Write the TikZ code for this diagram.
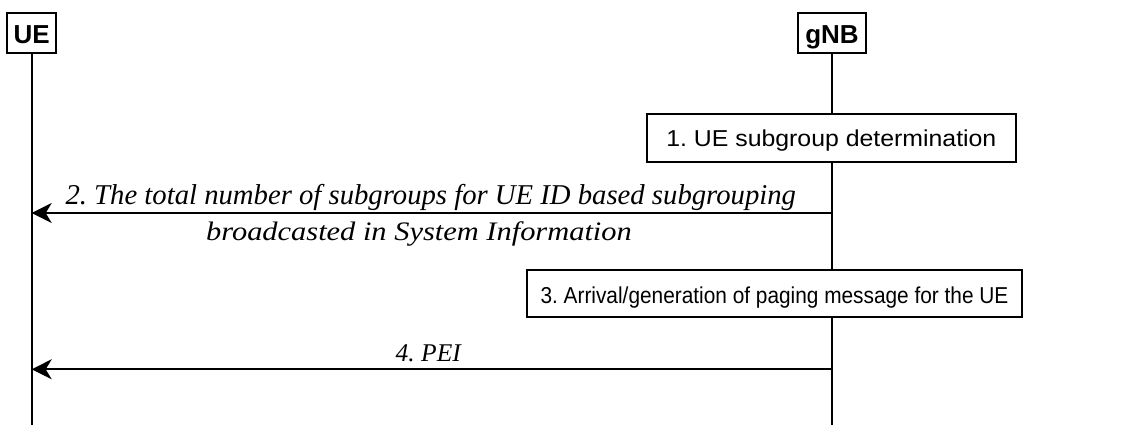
\documentclass[tikz,border=0pt]{standalone}
\usepackage{fontspec}
\usepackage{graphicx}
\setmainfont{Liberation Serif}
\setsansfont{Liberation Sans}
\usetikzlibrary{arrows.meta}
\frenchspacing
\tikzset{
  entity/.style={draw=black, line width=1.8pt, fill=white, inner sep=0pt,
    font=\sffamily\bfseries\fontsize{26}{30}\selectfont, text height=20pt, text depth=0pt},
  actbox/.style={draw=black, line width=1.8pt, fill=white, inner sep=0pt,
    font=\sffamily\fontsize{23}{27}\selectfont, text depth=0pt},
  life/.style={line width=1.8pt},
  msg/.style={line width=1.8pt, -{Stealth[length=20pt, width=20pt, inset=6pt]}},
  lbl/.style={font=\itshape, anchor=base, inner sep=0pt}
}
\begin{document}
\begin{tikzpicture}[x=1pt, y=-1pt]
\useasboundingbox (0,0) rectangle (1125,425);
\node[entity, minimum width=48.7pt, minimum height=40pt] (UE) at (31.7,33.3) {UE};
\node[entity, minimum width=68.3pt, minimum height=40pt] (gNB) at (832,33.3) {gNB};
\node[actbox, minimum width=369.3pt, minimum height=47.4pt, text height=17.4pt] (s1) at (831.35,138) {\scalebox{1.08}[1]{1. UE subgroup determination}};
\node[actbox, minimum width=495.6pt, minimum height=46.7pt, text height=21pt] (s3) at (774.5,293.3) {\scalebox{0.906}[1]{3. Arrival/generation of paging message for the UE}};
\coordinate (ubot) at (31.7,425);
\coordinate (gbot) at (832,425);
\coordinate (y2) at (0,213);
\coordinate (y4) at (0,369.3);
\draw[life] (UE.south) -- (ubot);
\draw[life] (gNB.south) -- (gNB |- s1.north);
\draw[life] (gNB |- s1.south) -- (gNB |- s3.north);
\draw[life] (gNB |- s3.south) -- (gbot);
\draw[msg] (gNB |- y2) -- (UE |- y2);
\draw[msg] (gNB |- y4) -- (UE |- y4);
\node[lbl, font=\itshape\fontsize{28.7}{32}\selectfont] (l2a) at (430.8,204.3) {2. The total number of subgroups for UE ID based subgrouping};
\node[lbl, font=\itshape\fontsize{26.7}{30}\selectfont] (l2b) at (419,240.7) {\scalebox{1.14}[1]{broadcasted in System Information}};
\node[lbl, font=\itshape\fontsize{25.5}{29}\selectfont] (l4) at (428.3,361.7) {4. PEI};
\end{tikzpicture}
\end{document}
